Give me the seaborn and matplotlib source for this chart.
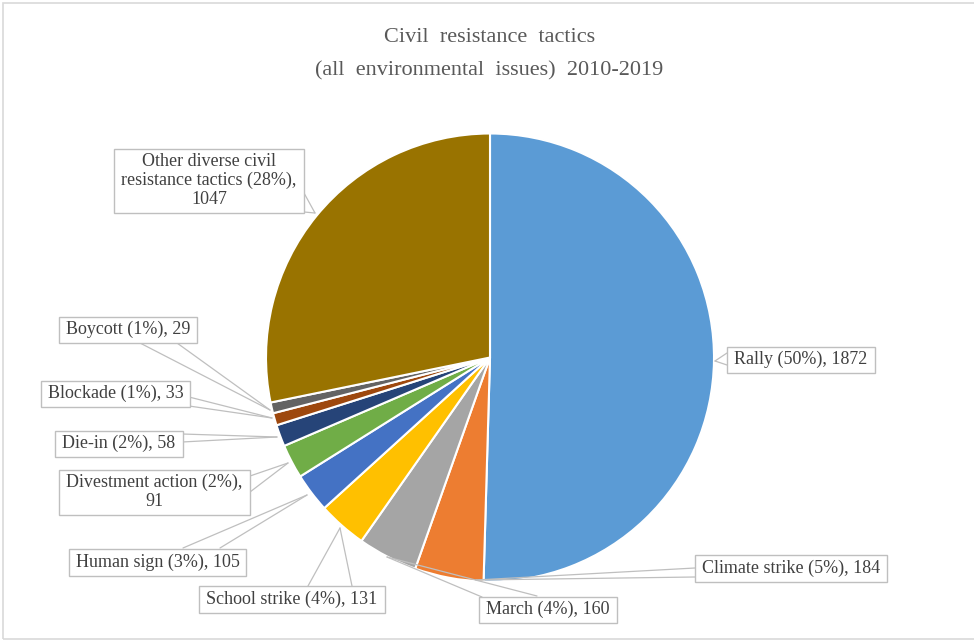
import textwrap
import matplotlib.pyplot as plt
import seaborn as sns
from matplotlib.patches import Rectangle

tactics = ["Rally", "Climate strike", "March", "School strike", "Human sign",
           "Divestment action", "Die-in", "Blockade", "Boycott",
           "Other diverse civil resistance tactics"]
counts = [1872, 184, 160, 131, 105, 91, 58, 33, 29, 1047]
colors = ["#5B9BD5", "#ED7D31", "#A5A5A5", "#FFC000", "#4472C4",
          "#70AD47", "#264478", "#9E480E", "#636363", "#997300"]

# callout layout in pixel coords (from top-left): box centre, pointer tip, two anchor points on box
box_centres = [(801, 359.5), (791, 568), (548, 609.5), (292, 599), (157.5, 562),
               (154.5, 492), (119, 443.5), (115.5, 393.5), (128, 329.5), (209, 180.5)]
tips = [(715, 361), (476, 580), (387, 557), (340, 528), (307, 495),
        (288, 463), (277, 437), (272, 418), (270, 410), (315, 213)]
anchors = [((727, 353), (727, 365)), ((695, 568), (695, 577)), ((482, 597), (537, 596)),
           ((308, 586), (352, 586)), ((183, 548), (220, 548)), ((250, 476), (250, 492)),
           ((182, 434), (182, 442)), ((189, 397), (189, 406)), ((140, 343), (177, 343)),
           ((304, 193), (304, 212))]

sns.set_theme(style="white")
plt.rcParams["font.family"] = ["Liberation Serif", "DejaVu Serif"]

W, H = 974, 641
fig = plt.figure(figsize=(W / 100, H / 100), dpi=100)
ax = fig.add_axes([0, 0, 1, 1])

ax.pie(counts, colors=colors, startangle=90, counterclock=False,
       center=(490, H - 357.5), radius=224,
       wedgeprops=dict(edgecolor="white", linewidth=1.5, zorder=1))
ax.set_xlim(0, W)
ax.set_ylim(0, H)
ax.set_aspect("equal")
ax.axis("off")

# chart area border
ax.add_patch(Rectangle((3, 2), 990, 636, fill=False, ec="#D9D9D9", lw=1.2, zorder=0))

ax.text(490, H - 42, "Civil  resistance  tactics", ha="center", va="baseline",
        fontsize=16, color="#595959")
ax.text(489, H - 75, "(all  environmental  issues)  2010-2019", ha="center", va="baseline",
        fontsize=16, color="#595959")

total = sum(counts)
labels = []
for name, n, (cx, cy), tip, anc in zip(tactics, counts, box_centres, tips, anchors):
    pct = 100 * n / total
    txt = textwrap.fill(f"{name} ({pct:.0f}%), {n}", 25)
    for a in anc:
        ax.plot([a[0], tip[0]], [H - a[1], H - tip[1]], color="#BFBFBF", lw=0.9, zorder=2)
    t = ax.text(cx, H - cy, txt, ha="center", va="center", fontsize=13, color="#404040",
                multialignment="center", linespacing=1.15, zorder=4)
    labels.append(t)

# boxes round the labels, wider padding sideways like the office callouts
fig.canvas.draw()
renderer = fig.canvas.get_renderer()
inv = ax.transData.inverted()
for t in labels:
    bb = t.get_window_extent(renderer)
    (x0, y0), (x1, y1) = inv.transform([(bb.x0, bb.y0), (bb.x1, bb.y1)])
    ax.add_patch(Rectangle((x0 - 7, y0 - 5), (x1 - x0) + 14, (y1 - y0) + 9,
                           fc="white", ec="#BFBFBF", lw=1, zorder=3))

fig.savefig("out.png", dpi=100)
